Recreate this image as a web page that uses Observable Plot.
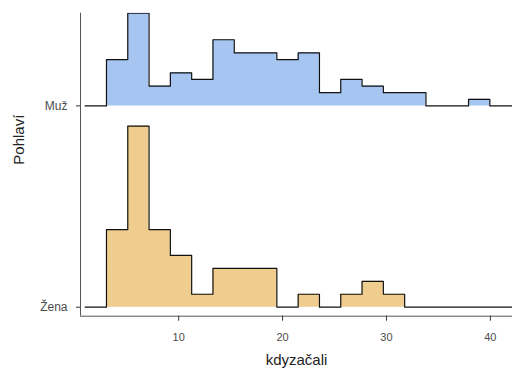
<!DOCTYPE html>
<html>
<head>
<meta charset="utf-8">
<script src="https://cdn.jsdelivr.net/npm/d3@7"></script>
<script src="https://cdn.jsdelivr.net/npm/@observablehq/plot@0.6"></script>
<style>
  body { margin: 0; background: #fff; }
  #chart svg { display: block; }
</style>
</head>
<body>
<div id="chart"></div>
<script>
// Histogram bins (left edges) shared by both ridges; the last value closes the final bin.
const binStarts = [1.0, 3.05, 5.1, 7.15, 9.2, 11.25, 13.3, 15.35, 17.4, 19.45, 21.5,
                   23.55, 25.6, 27.65, 29.7, 31.75, 33.8, 35.85, 37.9, 39.95, 42.0, 44.05];
// Counts per bin for each group
const countsMuz  = [0, 7, 14, 3, 5, 4, 10, 8, 8, 7, 8, 2, 4, 3, 2, 2, 0, 0, 1, 0, 0];
const countsZena = [0, 6, 14, 6, 4, 1, 3, 3, 3, 0, 1, 0, 1, 2, 1, 0, 0, 0, 0, 0, 0];
const groupNames = ["Muž", "Žena"];
const groupCounts = [countsMuz, countsZena];
const groupBase = [1, 0];
const groupFill = ["#a7c5f1", "#efcd8e"];
const xTicks = [10, 20, 30, 40];
const ridgeScale = 0.9;

// Densities (count / n); tallest bin over all groups spans ridgeScale of the row spacing
const totals = groupCounts.map(c => d3.sum(c));
const maxDensity = d3.max(groupCounts, (c, i) => d3.max(c) / totals[i]);

const rows = [];
groupNames.forEach((name, g) => {
  binStarts.forEach((x, i) => {
    const c = i < groupCounts[g].length ? groupCounts[g][i] : 0;
    rows.push({
      group: name,
      x,
      base: groupBase[g],
      top: groupBase[g] + ridgeScale * (c / totals[g]) / maxDensity
    });
  });
});

const xDomain = [0.55, 42.13];
const yDomain = [-0.0447, 1.4605];

const marks = [];
groupNames.forEach((name, g) => {
  const data = rows.filter(d => d.group === name);
  marks.push(Plot.areaY(data, {
    x: "x", y1: "base", y2: "top", curve: "step-after",
    fill: groupFill[g], clip: true
  }));
  marks.push(Plot.lineY(data, {
    x: "x", y: "top", curve: "step-after",
    stroke: "#111", strokeWidth: 1.2, clip: true
  }));
});

marks.push(
  Plot.ruleX([xDomain[0]], {stroke: "#555", strokeWidth: 1}),
  Plot.ruleY([yDomain[0]], {stroke: "#555", strokeWidth: 1}),
  Plot.axisX(xTicks, {
    tickSize: 5, tickPadding: 12, label: null,
    stroke: "#333", fill: "#4d4d4d", fontSize: 11
  }),
  Plot.axisY(groupBase, {
    tickSize: 4, tickPadding: 9, label: null,
    tickFormat: v => groupNames[groupBase.indexOf(v)],
    stroke: "#333", fill: "#4d4d4d", fontSize: 12
  }),
  Plot.text(["kdyzačali"], {
    frameAnchor: "bottom", dy: 44, fontSize: 15, fill: "#222", lineAnchor: "middle"
  }),
  Plot.text(["Pohlaví"], {
    frameAnchor: "left", dx: -61, rotate: -90, fontSize: 15, fill: "#222", lineAnchor: "middle"
  })
);

const chart = Plot.plot({
  width: 512,
  height: 372,
  marginTop: 12.7,
  marginBottom: 56.3,
  marginLeft: 80,
  marginRight: 0,
  style: {fontFamily: "'Liberation Sans', Arial, sans-serif", fontSize: "11px", background: "#fff"},
  x: {domain: xDomain},
  y: {domain: yDomain},
  marks
});
document.getElementById("chart").appendChild(chart);
</script>
</body>
</html>
